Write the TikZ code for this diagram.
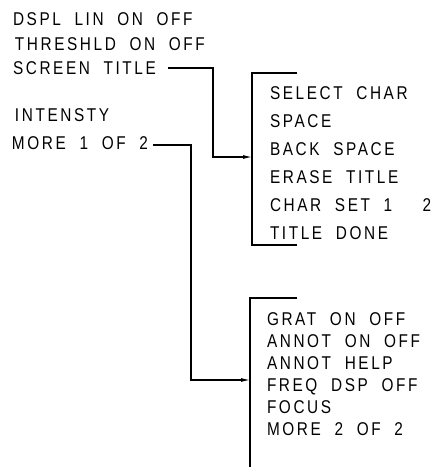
\documentclass[tikz,border=0pt]{standalone}
\usepackage{fontspec}
\newfontfamily\menufont[FakeStretch=0.83,LetterSpace=14,WordSpace=2]{Liberation Sans}
\usetikzlibrary{arrows.meta}
\tikzset{
  item/.style={anchor=base west,inner sep=0pt,outer sep=0pt,font=\menufont\fontsize{18.5}{18.5}\selectfont},
  conn/.style={line width=1.1pt},
  arr/.style={conn,-{Latex[length=9pt,width=4pt]}},
  brk/.style={line width=1.1pt}
}
\begin{document}
\begin{tikzpicture}[x=1pt,y=-1pt]
\useasboundingbox (0,0) rectangle (435,467);
% left menu
\node[item] (l1) at (13,25) {DSPL LIN ON OFF};
\node[item] (l2) at (15,50) {THRESHLD ON OFF};
\node[item] (l3) at (13,74) {SCREEN TITLE};
\node[item] (l4) at (15,121) {INTENSTY};
\node[item] (l5) at (12,149) {MORE 1 OF 2};
% menu 1
\node[item] (a1) at (270,99) {SELECT CHAR};
\node[item] (a2) at (270,127) {SPACE};
\node[item] (a3) at (270,155) {BACK SPACE};
\node[item] (a4) at (270,183) {ERASE TITLE};
\node[item] (a5) at (270,211) {CHAR SET 1~~\hspace{3pt}2};
\node[item] (a6) at (270,239) {TITLE DONE};
% menu 2
\node[item] (b1) at (267,325) {GRAT ON OFF};
\node[item] (b2) at (267,347) {ANNOT ON OFF};
\node[item] (b3) at (267,369) {ANNOT HELP};
\node[item] (b4) at (267,391) {FREQ DSP OFF};
\node[item] (b5) at (267,413) {FOCUS};
\node[item] (b6) at (267,435) {MORE 2 OF 2};
% brackets
\coordinate (m1t) at (252,73);
\coordinate (m1b) at (252,245);
\coordinate (m1a) at (252,157);
\draw[brk] (297,73) -- (m1t) -- (m1b) -- (297,245);
\coordinate (m2t) at (250,298);
\coordinate (m2b) at (250,467);
\coordinate (m2a) at (250,380);
\draw[brk] (297,298) -- (m2t) -- (m2b);
% connectors
\coordinate (s1) at (168,68);
\coordinate (k1) at (213,157);
\draw[arr] (s1) -| (k1) -- (m1a);
\coordinate (s2) at (153,145);
\coordinate (k2) at (191,380);
\draw[arr] (s2) -| (k2) -- (m2a);
\end{tikzpicture}
\end{document}
